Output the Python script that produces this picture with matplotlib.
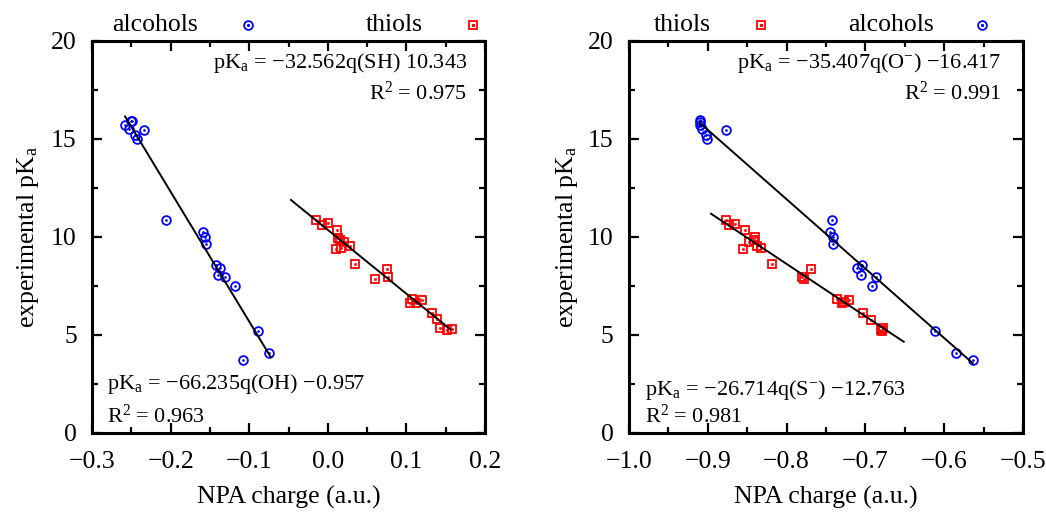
import numpy as np
import matplotlib
matplotlib.use("Agg")
import matplotlib.pyplot as plt
from matplotlib.ticker import MultipleLocator, FuncFormatter

plt.rcParams['font.family'] = ['Liberation Serif', 'DejaVu Serif']
plt.rcParams['mathtext.fontset'] = 'custom'
plt.rcParams['mathtext.rm'] = 'Liberation Serif'
plt.rcParams['mathtext.it'] = 'Liberation Serif:italic'
plt.rcParams['font.size'] = 18.5

# left panel: NPA charge of neutral groups
oh_q = [-0.258, -0.2508, -0.2495, -0.2533, -0.2449, -0.2431, -0.2342, -0.2059, -0.1588,
        -0.1559, -0.1546, -0.1426, -0.1368, -0.1397, -0.1304, -0.1184, -0.0884, -0.0752, -0.1075]
oh_pka = [15.70, 15.92, 15.88, 15.48, 15.20, 14.97, 15.44, 10.87, 10.22,
          9.97, 9.64, 8.54, 8.39, 8.06, 7.96, 7.50, 5.20, 4.08, 3.71]
sh_q = [-0.0150, -0.0078, 0.0006, 0.0113, 0.0126, 0.0155, 0.0210, 0.0282, 0.0100, 0.0172,
        0.0346, 0.0604, 0.0757, 0.0770, 0.1046, 0.1075, 0.1118, 0.1202, 0.1330, 0.1389,
        0.1424, 0.1513, 0.1580]
sh_pka = [10.85, 10.60, 10.69, 10.33, 9.95, 9.83, 9.71, 9.51, 9.37, 9.42,
          8.61, 7.86, 8.33, 7.94, 6.63, 6.82, 6.62, 6.77, 6.12, 5.79,
          5.32, 5.22, 5.29]

# right panel: NPA charge of anions
o_q = [-0.9103, -0.9103, -0.9095, -0.9070, -0.9027, -0.9010, -0.8769, -0.7420, -0.7453,
       -0.7411, -0.7407, -0.7043, -0.7107, -0.7052, -0.6865, -0.6920, -0.6117, -0.5854, -0.5638]
o_pka = [15.95, 15.85, 15.70, 15.49, 15.20, 14.97, 15.44, 10.87, 10.22,
         9.96, 9.64, 8.54, 8.39, 8.05, 7.94, 7.50, 5.19, 4.08, 3.71]
s_q = [-0.8769, -0.8731, -0.8651, -0.8528, -0.8401, -0.8410, -0.8473, -0.8376, -0.8325,
       -0.8553, -0.8181, -0.7694, -0.7808, -0.7779, -0.7364, -0.7301, -0.7268, -0.7208,
       -0.7034, -0.6933, -0.6802, -0.6780, -0.6793]
s_pka = [10.87, 10.60, 10.66, 10.32, 9.96, 9.83, 9.71, 9.51, 9.44,
         9.37, 8.62, 8.33, 7.96, 7.84, 6.80, 6.63, 6.67, 6.78,
         6.12, 5.77, 5.24, 5.33, 5.20]

# linear fits: slope, intercept, x range of drawn line
fit_oh = (-66.235, -0.957, (-0.258, -0.0727))
fit_sh = (-32.562, 10.343, (-0.047, 0.1555))
fit_o = (-35.407, -16.417, (-0.9103, -0.5638))
fit_s = (-26.714, -12.763, (-0.8959, -0.6514))

blue = '#0000ff'
red = '#ff0000'
note_fs = 16


def minus(x, pos):
    return f"{x:.1f}".replace('-', '\u2212')


def draw_pts(ax, q, pka, color, marker):
    ax.plot(q, pka, ls='none', marker=marker, ms=6.3, mfc='none', mec=color, mew=1.3)
    ax.plot(q, pka, ls='none', marker=marker, ms=1.3, mfc=color, mec=color, mew=0.5)


def draw_fit(ax, fit):
    a, b, (x0, x1) = fit
    xx = np.array([x0, x1])
    ax.plot(xx, a * xx + b, color='black', lw=1.4)


def key(ax, label, tx, mx, color, marker):
    ax.text(tx, 1.04, label, ha='right', va='center', transform=ax.transAxes)
    ax.plot([mx], [1.04], transform=ax.transAxes, clip_on=False, ls='none',
            marker=marker, ms=6.3, mfc='none', mec=color, mew=1.3)
    ax.plot([mx], [1.04], transform=ax.transAxes, clip_on=False, ls='none',
            marker=marker, ms=1.3, mfc=color, mec=color)


def note(ax, x, y, s, ha):
    ax.text(x, y, s, ha=ha, va='baseline', fontsize=note_fs, transform=ax.transAxes)


def style(ax, xlim, xmaj):
    ax.set_xlim(*xlim)
    ax.set_ylim(0, 20)
    ax.xaxis.set_major_locator(MultipleLocator(xmaj))
    ax.xaxis.set_minor_locator(MultipleLocator(xmaj / 2))
    ax.yaxis.set_major_locator(MultipleLocator(5))
    ax.yaxis.set_minor_locator(MultipleLocator(2.5))
    ax.xaxis.set_major_formatter(FuncFormatter(minus))
    ax.tick_params(which='both', direction='in', top=True, right=True, width=1.6)
    ax.tick_params(which='major', length=7)
    ax.tick_params(which='minor', length=4)
    ax.tick_params(axis='x', pad=13)
    ax.tick_params(axis='y', pad=11)
    for s in ax.spines.values():
        s.set_linewidth(2.2)
    ax.text(0.5, -0.165, 'NPA charge (a.u.)', ha='center', va='center', transform=ax.transAxes)


fig = plt.figure(figsize=(10.46, 5.12), dpi=100)
ax1 = fig.add_axes([0.088, 0.155, 0.3757, 0.7656])
ax2 = fig.add_axes([0.6013, 0.155, 0.3767, 0.7656])

# left
draw_pts(ax1, oh_q, oh_pka, blue, 'o')
draw_pts(ax1, sh_q, sh_pka, red, 's')
draw_fit(ax1, fit_oh)
draw_fit(ax1, fit_sh)
style(ax1, (-0.3, 0.2), 0.1)
ax1.text(-0.163, 0.5, r'experimental pK$_\mathrm{a}$', rotation=90, ha='center', va='center',
         transform=ax1.transAxes)
key(ax1, 'alcohols', 0.270, 0.397, blue, 'o')
key(ax1, 'thiols', 0.842, 0.969, red, 's')
note(ax1, 0.954, 0.930, r'pK$_\mathrm{a}$ = −32.562q(SH) 10.343', 'right')
note(ax1, 0.954, 0.849, r'R$^2$ = 0.975', 'right')
note(ax1, 0.037, 0.111, r'pK$_\mathrm{a}$ = −66.235q(OH) −0.957', 'left')
note(ax1, 0.037, 0.024, r'R$^2$ = 0.963', 'left')

# right
draw_pts(ax2, o_q, o_pka, blue, 'o')
draw_pts(ax2, s_q, s_pka, red, 's')
draw_fit(ax2, fit_o)
draw_fit(ax2, fit_s)
style(ax2, (-1.0, -0.5), 0.1)
ax2.text(-0.157, 0.5, r'experimental pK$_\mathrm{a}$', rotation=90, ha='center', va='center',
         transform=ax2.transAxes)
key(ax2, 'thiols', 0.208, 0.335, red, 's')
key(ax2, 'alcohols', 0.774, 0.896, blue, 'o')
note(ax2, 0.946, 0.930, r'pK$_\mathrm{a}$ = −35.407q(O$^{-}$) −16.417', 'right')
note(ax2, 0.946, 0.849, r'R$^2$ = 0.991', 'right')
note(ax2, 0.041, 0.096, r'pK$_\mathrm{a}$ = −26.714q(S$^{-}$) −12.763', 'left')
note(ax2, 0.041, 0.025, r'R$^2$ = 0.981', 'left')

fig.savefig('out.png', dpi=100)
